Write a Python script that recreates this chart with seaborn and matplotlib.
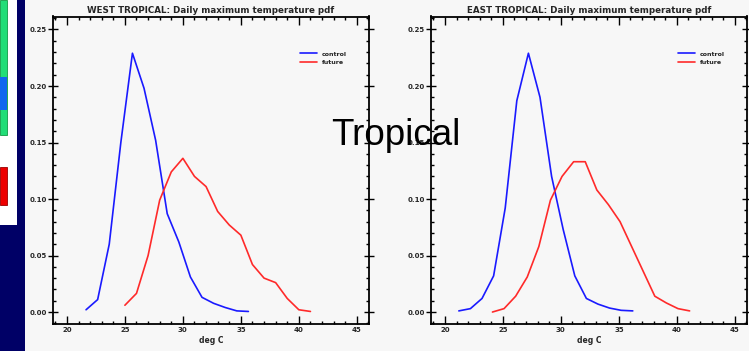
import numpy as np
import pandas as pd
import matplotlib
matplotlib.use("Agg")
import matplotlib.pyplot as plt
import seaborn as sns
from matplotlib.patches import Rectangle
from matplotlib.ticker import MultipleLocator, FormatStrFormatter

# ---- data ----
west_control_x = [21.65, 22.65, 23.65, 24.65, 25.65, 26.65, 27.65, 28.65, 29.65,
                  30.65, 31.65, 32.65, 33.65, 34.65, 35.65]
west_control_y = [0.002, 0.011, 0.060, 0.150, 0.229, 0.198, 0.152, 0.087, 0.062,
                  0.031, 0.013, 0.0077, 0.004, 0.001, 0.0005]
west_future_x = [25.0, 26.0, 27.0, 28.0, 29.0, 30.0, 31.0, 32.0, 33.0, 34.0,
                 35.0, 36.0, 37.0, 38.0, 39.0, 40.0, 41.0]
west_future_y = [0.006, 0.0165, 0.050, 0.099, 0.124, 0.136, 0.120, 0.111, 0.089,
                 0.077, 0.068, 0.042, 0.030, 0.026, 0.012, 0.002, 0.0005]
east_control_x = [21.2, 22.2, 23.2, 24.2, 25.2, 26.2, 27.2, 28.2, 29.2, 30.2,
                  31.2, 32.2, 33.2, 34.2, 35.2, 36.2]
east_control_y = [0.001, 0.003, 0.012, 0.032, 0.092, 0.187, 0.229, 0.190, 0.120,
                  0.073, 0.032, 0.012, 0.007, 0.0035, 0.0015, 0.001]
east_future_x = [24.1, 25.1, 26.1, 27.1, 28.1, 29.1, 30.1, 31.1, 32.1, 33.1, 34.1,
                 35.1, 36.1, 37.1, 38.1, 39.1, 40.1, 41.1]
east_future_y = [0.0, 0.003, 0.014, 0.031, 0.058, 0.099, 0.120, 0.133, 0.133, 0.108,
                 0.095, 0.080, 0.058, 0.036, 0.014, 0.008, 0.003, 0.001]

titles = ["WEST TROPICAL: Daily maximum temperature pdf",
          "EAST TROPICAL: Daily maximum temperature pdf"]
xlabel = "deg C"
series_names = ["control", "future"]
overlay_text = "Tropical"


def frame(cx, cy, fx, fy):
    return pd.concat([
        pd.DataFrame({"x": cx, "y": cy, "series": "control"}),
        pd.DataFrame({"x": fx, "y": fy, "series": "future"}),
    ], ignore_index=True)


dfs = [frame(west_control_x, west_control_y, west_future_x, west_future_y),
       frame(east_control_x, east_control_y, east_future_x, east_future_y)]

sns.set_theme(style="white")
plt.rcParams["font.family"] = ["DejaVu Sans"]
bg = "#f7f7f7"
W, H = 749, 351
fig = plt.figure(figsize=(W / 100, H / 100), dpi=100, facecolor=bg)

# ---- slide decoration on the left ----
def px_rect(x0, y0, x1, y1, **kw):
    fig.patches.append(Rectangle((x0 / W, 1 - y1 / H), (x1 - x0) / W, (y1 - y0) / H,
                                 transform=fig.transFigure, figure=fig, **kw))

px_rect(0, 0, 25, 351, facecolor="#000066", edgecolor="none")
px_rect(0, 0, 17, 225, facecolor="white", edgecolor="none")
px_rect(0, 0, 7, 135, facecolor="#22dd77", edgecolor="#119944", linewidth=0.6)
px_rect(0, 77, 7, 110, facecolor="#1166ee", edgecolor="none")
px_rect(0, 167, 7, 205, facecolor="#ee0000", edgecolor="#990000", linewidth=0.6)

palette = {"control": "#1a1aff", "future": "#ff2a2a"}
lefts = [53, 431]
for i, (df, title) in enumerate(zip(dfs, titles)):
    l = lefts[i]
    ax = fig.add_axes([l / W, 1 - 324 / H, 316 / W, (324 - 16.5) / H])
    ax.set_facecolor(bg)
    sns.lineplot(data=df, x="x", y="y", hue="series", palette=palette,
                 linewidth=1.2, ax=ax, sort=False, estimator=None)
    ax.set_xlim(18.8, 46.05)
    ax.set_ylim(-0.0106, 0.2615)
    ax.xaxis.set_major_locator(MultipleLocator(5))
    ax.xaxis.set_minor_locator(MultipleLocator(1))
    ax.yaxis.set_major_locator(MultipleLocator(0.05))
    ax.yaxis.set_minor_locator(MultipleLocator(0.01))
    ax.yaxis.set_major_formatter(FormatStrFormatter("%.2f"))
    ax.tick_params(which="both", direction="in", top=True, right=True,
                   bottom=True, left=True, color="black", width=1.0,
                   labelsize=5, pad=2)
    ax.tick_params(which="major", length=5.5)
    ax.tick_params(which="minor", length=2.5)
    ax.tick_params(axis="y", which="major", direction="inout", length=7, pad=1)
    for lab in ax.get_xticklabels() + ax.get_yticklabels():
        lab.set_fontweight("bold")
    for s in ax.spines.values():
        s.set_color("black")
        s.set_linewidth(1.3)
    ax.set_title(title, fontsize=6.3, fontweight="bold", pad=2.5)
    ax.set_xlabel(xlabel, fontsize=5.5, fontweight="bold", labelpad=2)
    ax.set_ylabel("")
    leg = ax.legend(loc="upper left", bbox_to_anchor=(0.775, 0.895), frameon=False,
                    fontsize=4.5, handlelength=2.7, handletextpad=0.7,
                    labelspacing=0.55, borderaxespad=0)
    for t in leg.get_texts():
        t.set_fontweight("bold")

fig.text(396 / W, 1 - 145 / H, overlay_text, ha="center", va="baseline",
         fontsize=26.5, family=["Liberation Sans", "DejaVu Sans"], color="black")

fig.savefig("out.png", dpi=100, facecolor=bg)
